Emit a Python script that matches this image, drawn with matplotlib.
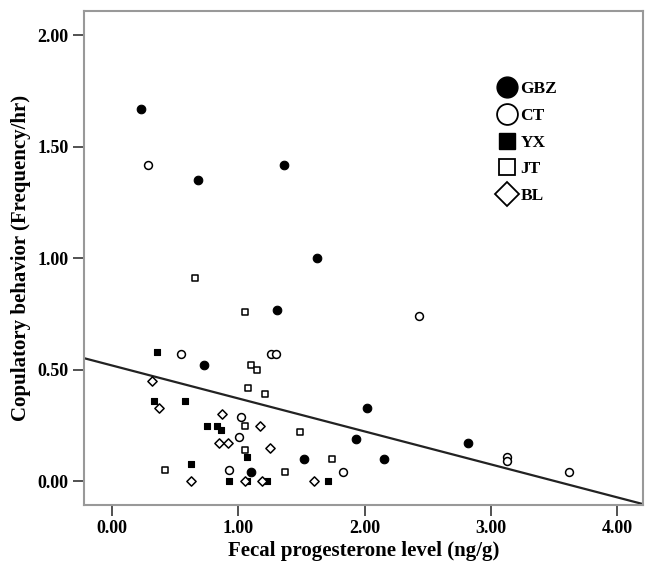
import matplotlib.pyplot as plt
import numpy as np
from matplotlib.lines import Line2D

plt.rcParams['font.family'] = ['Liberation Serif', 'DejaVu Serif']
plt.rcParams['font.weight'] = 'bold'

# values
gbz_x = [0.23, 0.68, 1.36, 1.62, 1.31, 0.73, 2.02, 1.93, 2.82, 1.52, 2.15, 1.10]
gbz_y = [1.67, 1.35, 1.42, 1.00, 0.77, 0.52, 0.33, 0.19, 0.17, 0.10, 0.10, 0.04]

ct_x = [0.29, 0.55, 1.26, 1.30, 2.43, 1.02, 1.01, 0.93, 1.83, 3.13, 3.13, 3.62]
ct_y = [1.42, 0.57, 0.57, 0.57, 0.74, 0.29, 0.20, 0.05, 0.04, 0.11, 0.09, 0.04]

yx_x = [0.36, 0.33, 0.58, 0.75, 0.83, 0.86, 1.07, 0.63, 0.93, 1.07, 1.23, 1.71]
yx_y = [0.58, 0.36, 0.36, 0.25, 0.25, 0.23, 0.11, 0.08, 0.00, 0.00, 0.00, 0.00]

jt_x = [0.66, 1.05, 1.10, 1.15, 1.08, 1.21, 1.05, 1.49, 1.05, 1.74, 0.42, 1.37]
jt_y = [0.91, 0.76, 0.52, 0.50, 0.42, 0.39, 0.25, 0.22, 0.14, 0.10, 0.05, 0.04]

bl_x = [0.32, 0.37, 0.87, 1.17, 0.85, 0.92, 1.25, 0.63, 1.05, 1.19, 1.60]
bl_y = [0.45, 0.33, 0.30, 0.25, 0.17, 0.17, 0.15, 0.00, 0.00, 0.00, 0.00]

fit_intercept = 0.52
fit_slope = -0.148

x_ticks = [0.0, 1.0, 2.0, 3.0, 4.0]
y_ticks = [0.0, 0.5, 1.0, 1.5, 2.0]

fig = plt.figure(figsize=(6.46, 5.70), dpi=100)
ax = fig.add_axes([0.130, 0.114, 0.865, 0.867])

ax.scatter(gbz_x, gbz_y, marker='o', s=38, c='black', edgecolors='black', linewidths=0.8, zorder=3)
ax.scatter(ct_x, ct_y, marker='o', s=32, facecolors='white', edgecolors='black', linewidths=1.1, zorder=3)
ax.scatter(yx_x, yx_y, marker='s', s=25, c='black', edgecolors='black', linewidths=0.8, zorder=3)
ax.scatter(jt_x, jt_y, marker='s', s=25, facecolors='white', edgecolors='black', linewidths=1.1, zorder=3)
ax.scatter(bl_x, bl_y, marker='D', s=22, facecolors='white', edgecolors='black', linewidths=1.1, zorder=3)

xmin, xmax = -0.22, 4.20
ymin, ymax = -0.106, 2.11
lx = np.array([xmin, xmax])
ax.plot(lx, fit_intercept + fit_slope * lx, color='#222222', lw=1.6, zorder=2)

ax.set_xlim(xmin, xmax)
ax.set_ylim(ymin, ymax)
ax.set_xticks(x_ticks)
ax.set_yticks(y_ticks)
ax.set_xticklabels(['%.2f' % v for v in x_ticks], fontsize=13, fontweight='bold')
ax.set_yticklabels(['%.2f' % v for v in y_ticks], fontsize=13, fontweight='bold')
ax.tick_params(direction='out', length=8, width=1.2, color='#333333', pad=3)

for sp in ax.spines.values():
    sp.set_color('#999999')
    sp.set_linewidth(1.5)

ax.set_xlabel('Fecal progesterone level (ng/g)', fontsize=15, fontweight='bold', labelpad=3)
ax.set_ylabel('Copulatory behavior (Frequency/hr)', fontsize=15, fontweight='bold', labelpad=5)

handles = [
    Line2D([], [], marker='o', ls='', ms=15, mfc='black', mec='black'),
    Line2D([], [], marker='o', ls='', ms=15, mfc='white', mec='black', mew=1.3),
    Line2D([], [], marker='s', ls='', ms=11, mfc='black', mec='black'),
    Line2D([], [], marker='s', ls='', ms=11, mfc='white', mec='black', mew=1.3),
    Line2D([], [], marker='D', ls='', ms=12, mfc='white', mec='black', mew=1.3),
]
ax.legend(handles, ['GBZ', 'CT', 'YX', 'JT', 'BL'], loc='upper left',
          bbox_to_anchor=(0.713, 0.889), frameon=False, handlelength=1.0,
          handletextpad=0.3, labelspacing=0.6, prop={'size': 12.5, 'weight': 'bold'})

fig.savefig('out.png', dpi=100)
